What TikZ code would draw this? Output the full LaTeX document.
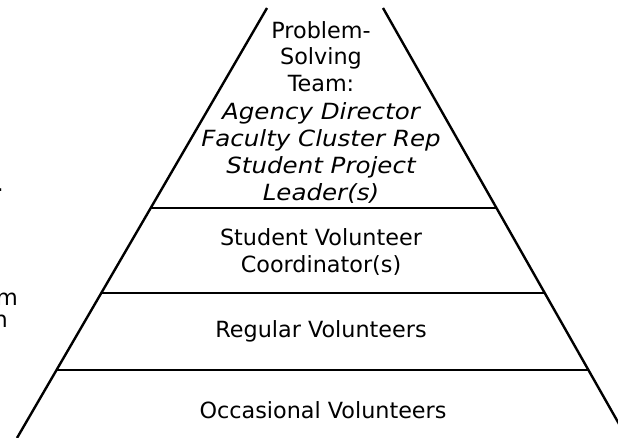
\documentclass[tikz,border=0pt]{standalone}
\usepackage{fontspec}
\setmainfont{DejaVu Sans}
\newfontface\wideit{DejaVu Sans Oblique}[FakeStretch=1.1]
\usetikzlibrary{calc,positioning}

\begin{document}
\begin{tikzpicture}[x=1pt,y=-1pt,tier/.style={align=center,inner sep=0pt,font=\fontsize{22.3}{27}\selectfont},side/.style={line width=2.4pt}] %
    \useasboundingbox (0,0) rectangle (618,438) ; %
    \clip (0,0) rectangle (618,438) ;
    \coordinate (lt) at (267,8) ; %
    \coordinate (lb) at (17,438) ;
    \coordinate (rt) at (383,8) ;
    \coordinate (rb) at (627,438) ;
    \draw[side] (lt)--(lb) ; %
    \draw[side] (rt)--(rb) ;
    \draw[side] ($(lt)!0.465!(lb)$)--($(rt)!0.465!(rb)$) ; %
    \draw[side] ($(lt)!0.663!(lb)$)--($(rt)!0.663!(rb)$) ;
    \draw[side] ($(lt)!0.842!(lb)$)--($(rt)!0.842!(rb)$) ;
    \node[tier] (team) at (321,112) {Problem-\\Solving\\Team:\\{\wideit Agency Director}\\{\wideit Faculty Cluster Rep}\\{\wideit Student Project}\\{\wideit Leader(s)}} ; %
    \node[tier] (coord) at (321,252) {Student Volunteer\\Coordinator(s)} ;
    \node[tier] (regular) at (321,331) {Regular Volunteers} ;
    \node[tier] (occasional) at (323,410) {Occasional Volunteers} ;
    \node[tier,anchor=base east] (frag1) at (4,192) {.} ; %
    \node[tier,anchor=base east] (frag2) at (18,305) {m} ;
    \node[tier,anchor=base east] (frag3) at (8,327) {n} ;
  \end{tikzpicture}
\end{document}
